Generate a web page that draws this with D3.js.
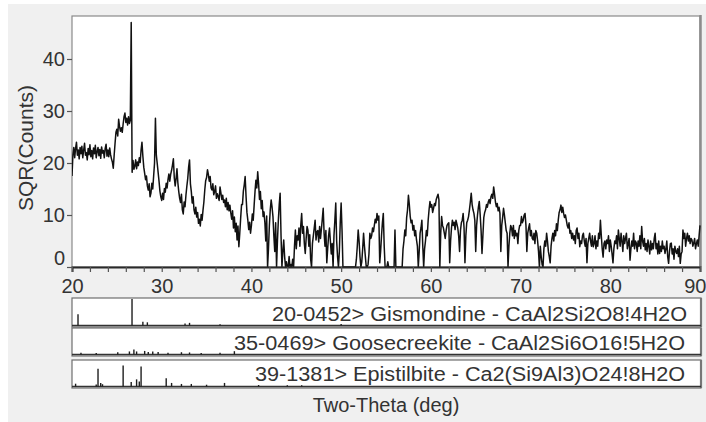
<!DOCTYPE html>
<html>
<head>
<meta charset="utf-8">
<script src="https://cdn.jsdelivr.net/npm/d3@7"></script>
<style>
  html, body { margin: 0; padding: 0; background: #ffffff; }
  svg { display: block; font-family: "Liberation Sans", Arial, sans-serif; }
</style>
</head>
<body>
<svg id="chart" width="706" height="422"></svg>
<script>
// Measured pattern: square root of counts, sampled every 0.1 deg from 20 to 90 deg 2-theta
const angleStart = 20;
const angleStep = 0.1;
const sqrCounts = [
  // 20
  17.5, 21.5, 23.0, 21.0, 22.8, 24.0, 21.5, 22.5, 20.8, 23.0,
  // 21
  21.8, 23.2, 21.0, 22.5, 23.8, 21.5, 22.0, 20.6, 22.8, 21.6,
  // 22
  23.5, 21.2, 22.4, 20.8, 22.9, 21.8, 23.4, 21.0, 22.2, 23.0,
  // 23
  21.4, 22.6, 20.9, 23.1, 21.9, 22.4, 21.0, 22.8, 23.6, 21.3,
  // 24
  22.5, 21.2, 22.9, 21.6, 20.8, 20.2, 19.0, 21.5, 23.8, 25.9,
  // 25
  26.5, 25.2, 28.4, 27.0, 26.1, 26.8, 25.9, 27.5, 28.9, 29.6,
  // 26
  27.8, 28.6, 27.3, 28.9, 27.6, 28.2, 47.0, 18.2, 20.5, 18.8,
  // 27
  19.4, 20.6, 18.9, 20.2, 19.5, 21.0, 20.1, 22.5, 24.0, 21.3,
  // 28
  19.2, 18.0, 16.8, 17.5, 15.6, 14.8, 16.0, 13.5, 14.2, 16.1,
  // 29
  15.0, 17.5, 20.0, 28.6, 21.5, 19.9, 18.2, 16.5, 14.6, 13.5,
  // 30
  12.8, 14.2, 13.0, 15.1, 14.4, 16.1, 15.2, 16.8, 17.9, 16.5,
  // 31
  17.8, 18.6, 19.6, 20.8, 17.2, 15.6, 17.0, 18.9, 16.2, 14.5,
  // 32
  13.2, 12.4, 14.0, 11.0, 10.2, 12.5, 11.6, 13.8, 15.5, 17.0,
  // 33
  19.2, 20.6, 16.0, 14.5, 12.3, 13.5, 11.0, 10.2, 11.5, 9.6,
  // 34
  10.5, 8.4, 9.2, 7.9, 10.1, 9.0, 10.9, 12.5, 14.8, 16.6,
  // 35
  17.2, 18.7, 17.8, 16.5, 17.4, 15.2, 14.8, 16.0, 13.9, 14.5,
  // 36
  15.6, 13.2, 14.1, 13.5, 12.8, 15.4, 14.2, 13.0, 13.8, 12.4,
  // 37
  12.9, 11.6, 13.2, 11.0, 12.4, 10.8, 11.9, 10.4, 9.2, 10.8,
  // 38
  7.5, 9.6, 6.8, 8.4, 5.2, 7.9, 3.9, 6.5, 9.4, 12.0,
  // 39
  12.0, 14.6, 15.8, 17.4, 13.6, 10.5, 9.0, 7.2, 8.6, 6.5,
  // 40
  8.0, 10.2, 9.0, 11.8, 14.5, 16.7, 15.2, 18.3, 16.0, 13.0,
  // 41
  14.5, 11.2, 12.8, 9.7, 10.6, 8.5, 5.0, 9.8, 0.0, 3.5,
  // 42
  8.0, 11.0, 12.9, 11.5, 9.7, 6.0, 3.0, 8.5, 0.0, 5.0,
  // 43
  9.0, 12.0, 14.2, 6.0, 0.0, 3.0, 5.2, 2.0, 0.0, 1.0,
  // 44
  0.0, 0.0, 2.0, 0.0, 0.5, 0.0, 1.5, 0.0, 4.0, 7.1,
  // 45
  3.5, 6.0, 5.2, 7.5, 4.0, 8.0, 10.3, 6.5, 7.8, 4.5,
  // 46
  2.6, 5.5, 7.8, 7.1, 4.0, 6.2, 1.5, 0.0, 4.5, 6.0,
  // 47
  7.5, 9.0, 5.2, 6.8, 7.0, 4.8, 7.8, 5.5, 7.3, 9.2,
  // 48
  11.3, 6.5, 4.0, 7.0, 0.8, 3.5, 6.0, 7.5, 5.0, 2.5,
  // 49
  4.5, 0.0, 6.0, 9.0, 12.3, 5.0, 2.0, 0.0, 3.0, 8.5,
  // 50
  12.3, 7.0, 0.0, 0.0, 0.0, 0.0, 0.0, 0.0, 0.0, 0.0,
  // 51
  0.0, 0.0, 0.0, 0.0, 0.0, 0.0, 0.0, 1.5, 4.0, 7.1,
  // 52
  5.0, 2.0, 0.0, 1.0, 3.5, 6.5, 4.0, 2.0, 0.0, 0.0,
  // 53
  0.5, 2.5, 6.5, 5.5, 6.0, 7.5, 6.8, 8.0, 9.2, 8.5,
  // 54
  10.3, 9.0, 9.8, 0.8, 3.0, 6.0, 8.5, 10.3, 4.0, 0.0,
  // 55
  0.0, 0.0, 1.0, 0.0, 0.0, 0.0, 0.0, 0.0, 0.0, 0.0,
  // 56
  7.1, 0.0, 0.0, 0.0, 0.0, 0.0, 0.0, 0.0, 0.0, 3.5,
  // 57
  5.0, 7.1, 6.0, 9.5, 11.0, 13.8, 12.0, 9.7, 8.5, 9.0,
  // 58
  7.1, 8.0, 6.0, 7.0, 5.2, 4.0, 0.0, 3.0, 6.5, 7.5,
  // 59
  9.0, 4.0, 0.0, 3.5, 5.0, 7.0, 6.0, 9.0, 11.0, 12.6,
  // 60
  11.5, 12.0, 10.5, 11.3, 12.2, 11.8, 13.0, 13.5, 14.0, 12.9,
  // 61
  0.0, 6.5, 9.7, 8.0, 7.5, 6.5, 5.5, 7.0, 8.0, 8.3,
  // 62
  8.5, 0.8, 5.0, 7.5, 9.0, 8.0, 8.6, 7.2, 9.0, 8.3,
  // 63
  7.5, 6.0, 3.0, 7.0, 8.5, 9.0, 10.3, 7.5, 0.8, 6.0,
  // 64
  8.5, 9.0, 9.7, 11.0, 12.5, 14.2, 12.0, 11.0, 10.3, 9.0,
  // 65
  3.0, 8.0, 10.0, 11.5, 12.6, 10.0, 7.0, 2.6, 6.0, 9.5,
  // 66
  10.5, 11.0, 12.0, 11.5, 12.5, 13.0, 12.2, 13.5, 14.0, 13.2,
  // 67
  15.4, 14.0, 12.5, 11.6, 12.2, 10.8, 11.5, 10.3, 3.0, 8.0,
  // 68
  9.5, 11.3, 10.0, 8.5, 7.0, 6.5, 0.0, 4.0, 6.5, 8.0,
  // 69
  7.5, 6.0, 8.0, 5.5, 7.0, 6.0, 6.5, 4.5, 7.0, 8.0,
  // 70
  8.0, 9.7, 8.5, 9.0, 10.0, 10.3, 8.0, 3.0, 6.5, 7.5,
  // 71
  8.3, 6.0, 7.0, 5.5, 5.2, 6.5, 4.5, 7.0, 6.5, 5.0,
  // 72
  3.0, 0.0, 4.0, 2.0, 0.5, 0.0, 3.5, 5.0, 4.0, 6.5,
  // 73
  5.0, 3.0, 2.0, 0.8, 4.0, 5.5, 6.5, 5.0, 7.0, 6.0,
  // 74
  8.3, 7.0, 9.0, 10.5, 11.0, 11.9, 10.5, 11.5, 10.3, 9.5,
  // 75
  10.0, 9.0, 8.0, 7.5, 8.5, 6.5, 7.0, 5.5, 6.5, 5.2,
  // 76
  6.0, 4.5, 7.0, 7.5, 5.5, 6.5, 3.9, 5.0, 4.5, 6.0,
  // 77
  6.5, 5.0, 4.0, 5.5, 0.8, 4.5, 5.5, 6.5, 5.0, 4.0,
  // 78
  6.0, 3.9, 4.5, 6.0, 3.5, 5.0, 4.0, 6.5, 5.5, 9.0,
  // 79
  6.0, 3.5, 1.9, 4.5, 5.0, 3.5, 5.2, 4.5, 6.0, 3.0,
  // 80
  5.2, 4.0, 2.5, 0.8, 3.5, 5.0, 4.5, 6.0, 3.5, 7.1,
  // 81
  5.5, 4.0, 6.5, 5.0, 3.0, 6.0, 4.5, 5.5, 6.5, 3.5,
  // 82
  4.5, 5.5, 1.3, 3.5, 5.0, 4.0, 6.5, 3.5, 5.0, 4.6,
  // 83
  3.0, 5.0, 4.0, 6.0, 3.5, 7.8, 5.0, 4.0, 5.5, 3.3,
  // 84
  4.5, 3.0, 5.2, 4.0, 2.5, 5.0, 3.3, 4.5, 3.5, 5.5,
  // 85
  6.5, 3.5, 4.5, 2.5, 5.0, 2.6, 4.0, 3.0, 5.0, 3.5,
  // 86
  4.0, 2.6, 3.5, 5.0, 2.0, 0.7, 3.0, 4.5, 4.6, 2.5,
  // 87
  3.5, 1.5, 4.0, 3.0, 2.6, 3.5, 2.0, 4.0, 0.7, 2.5,
  // 88
  3.0, 7.1, 5.5, 6.5, 4.0, 5.5, 6.5, 5.0, 6.0, 4.5,
  // 89
  5.5, 5.2, 4.0, 4.6, 5.5, 3.5, 4.5, 5.2, 4.0, 6.0,
  // 90
  8.0
];

// Axis ticks
const xTickLabels = [20, 30, 40, 50, 60, 70, 80, 90];
const xMinorTicks = d3.range(20, 91, 2);
const yTickLabels = [0, 10, 20, 30, 40];
const xAxisTitle = "Two-Theta (deg)";
const yAxisTitle = "SQR(Counts)";

// Reference pattern cards: peak positions (deg) and relative intensities (%)
const cardTitles = [
  "20-0452> Gismondine - CaAl2Si2O8!4H2O",
  "35-0469> Goosecreekite - CaAl2Si6O16!5H2O",
  "39-1381> Epistilbite - Ca2(Si9Al3)O24!8H2O"
];
const gismondinePos = [20.67, 26.69, 27.9, 28.4, 32.6, 33.1, 36.5, 50.0];
const gismondineInt = [42, 100, 14, 12, 8, 10, 5, 6];
const goosecreekitePos = [21.0, 22.7, 25.1, 26.4, 26.9, 27.2, 28.1, 28.5, 29.0, 29.6, 30.7, 32.2, 33.1, 34.4, 36.5, 38.1];
const goosecreekiteInt = [7, 6, 9, 12, 20, 12, 14, 10, 12, 10, 7, 9, 8, 6, 7, 13];
const epistilbitePos = [20.4, 22.7, 22.9, 23.2, 23.4, 25.7, 26.6, 27.2, 27.5, 27.7, 30.5, 31.1, 32.2, 33.3, 35.0, 37.0, 40.8, 44.0, 45.6];
const epistilbiteInt = [11, 8, 70, 14, 9, 82, 18, 28, 20, 78, 32, 14, 10, 10, 7, 14, 6, 5, 5];

const svg = d3.select("#chart");
const textColor = "#333333";

// Panel background
svg.append("rect").attr("x", 8).attr("y", 4).attr("width", 698).attr("height", 418).attr("fill", "#f0f0f0");

const plot = { left: 72, right: 700, top: 16, bottom: 267 };
const x = d3.scaleLinear().domain([20, 90]).range([plot.left, plot.right]);
const y = d3.scaleLinear().domain([0, (plot.bottom - plot.top) / 5.2]).range([plot.bottom, plot.top]);

// Plot frame
svg.append("rect")
  .attr("x", plot.left).attr("y", plot.top)
  .attr("width", plot.right - plot.left).attr("height", plot.bottom - plot.top)
  .attr("fill", "#ffffff").attr("stroke", "#8a8a8a").attr("stroke-width", 1.2);
svg.append("line")
  .attr("x1", plot.right + 0.5).attr("x2", plot.right + 0.5)
  .attr("y1", plot.top - 1).attr("y2", plot.bottom)
  .attr("stroke", "#8c8c8c").attr("stroke-width", 2.5);

svg.append("clipPath").attr("id", "plotClip")
  .append("rect").attr("x", plot.left).attr("y", plot.top - 1)
  .attr("width", plot.right - plot.left + 1).attr("height", plot.bottom - plot.top + 1);

// Diffraction trace
const points = sqrCounts.map((v, i) => [angleStart + i * angleStep, v]);
const line = d3.line().x(d => x(d[0])).y(d => y(d[1]));
svg.append("path")
  .datum(points)
  .attr("clip-path", "url(#plotClip)")
  .attr("d", line)
  .attr("fill", "none")
  .attr("stroke", "#111111")
  .attr("stroke-width", 1.5)
  .attr("stroke-linejoin", "round");

// X axis with minor ticks every 2 deg
const xAxis = svg.append("g").attr("transform", `translate(0,${plot.bottom})`)
  .call(d3.axisBottom(x).tickValues(xMinorTicks).tickSize(5).tickPadding(7)
    .tickFormat(d => xTickLabels.includes(d) ? d : ""));
xAxis.select(".domain").attr("stroke", "#2a2a2a").attr("stroke-width", 2);
xAxis.selectAll(".tick line").attr("stroke", "#555").attr("stroke-width", 1.2);
xAxis.selectAll(".tick text").attr("fill", textColor).attr("font-size", 20)
  .attr("font-family", "Liberation Sans, Arial, sans-serif");
// the last label sits against the panel edge
xAxis.selectAll(".tick").filter(d => d === 90).select("text")
  .attr("text-anchor", "end").attr("x", 6);

// Y axis
const yAxis = svg.append("g").attr("transform", `translate(${plot.left},0)`)
  .call(d3.axisLeft(y).tickValues(yTickLabels).tickSize(5).tickPadding(2).tickFormat(d3.format("d")));
yAxis.select(".domain").remove();
yAxis.selectAll(".tick line").attr("stroke", "#555").attr("stroke-width", 1.2);
yAxis.selectAll(".tick text").attr("fill", textColor).attr("font-size", 20)
  .attr("font-family", "Liberation Sans, Arial, sans-serif");
// keep the zero label clear of the x axis line
yAxis.selectAll(".tick").filter(d => d === 0).select("text").attr("dy", "-0.12em");

// Axis titles
svg.append("text")
  .attr("transform", `translate(33,148) rotate(-90)`)
  .attr("text-anchor", "middle")
  .attr("fill", textColor).attr("font-size", 21)
  .text(yAxisTitle);
svg.append("text")
  .attr("x", 386).attr("y", 412)
  .attr("text-anchor", "middle")
  .attr("fill", textColor).attr("font-size", 20)
  .text(xAxisTitle);

// Reference stick-pattern cards
const cards = [
  { top: 298, bottom: 327, pos: gismondinePos, int: gismondineInt, textX: 272, textEnd: 687, baseline: 321 },
  { top: 328, bottom: 356, pos: goosecreekitePos, int: goosecreekiteInt, textX: 234, textEnd: 685, baseline: 350 },
  { top: 360, bottom: 388, pos: epistilbitePos, int: epistilbiteInt, textX: 255, textEnd: 685, baseline: 381 }
];

cards.forEach((c, k) => {
  const g = svg.append("g");
  g.append("rect")
    .attr("x", plot.left).attr("y", c.top)
    .attr("width", 629).attr("height", c.bottom - c.top)
    .attr("fill", "#ffffff").attr("stroke", "#6e6e6e").attr("stroke-width", 1.2);
  g.append("line")
    .attr("x1", plot.left + 629).attr("x2", plot.left + 629)
    .attr("y1", c.top).attr("y2", c.bottom)
    .attr("stroke", "#777").attr("stroke-width", 2.2);
  const base = c.bottom - 1.5;
  const h = d3.scaleLinear().domain([0, 100]).range([base, c.top + 1]);
  g.append("line")
    .attr("x1", plot.left).attr("x2", plot.left + 629)
    .attr("y1", base).attr("y2", base)
    .attr("stroke", "#333").attr("stroke-width", 1.6);
  g.selectAll("line.stick")
    .data(c.pos.map((p, i) => [p, c.int[i]]))
    .join("line")
    .attr("class", "stick")
    .attr("x1", d => x(d[0])).attr("x2", d => x(d[0]))
    .attr("y1", base).attr("y2", d => h(d[1]))
    .attr("stroke", "#1e1e1e").attr("stroke-width", 1.4);
  g.append("text")
    .attr("x", c.textX).attr("y", c.baseline)
    .attr("fill", textColor).attr("font-size", 20)
    .attr("textLength", c.textEnd - c.textX)
    .attr("lengthAdjust", "spacingAndGlyphs")
    .text(cardTitles[k]);
});
</script>
</body>
</html>
